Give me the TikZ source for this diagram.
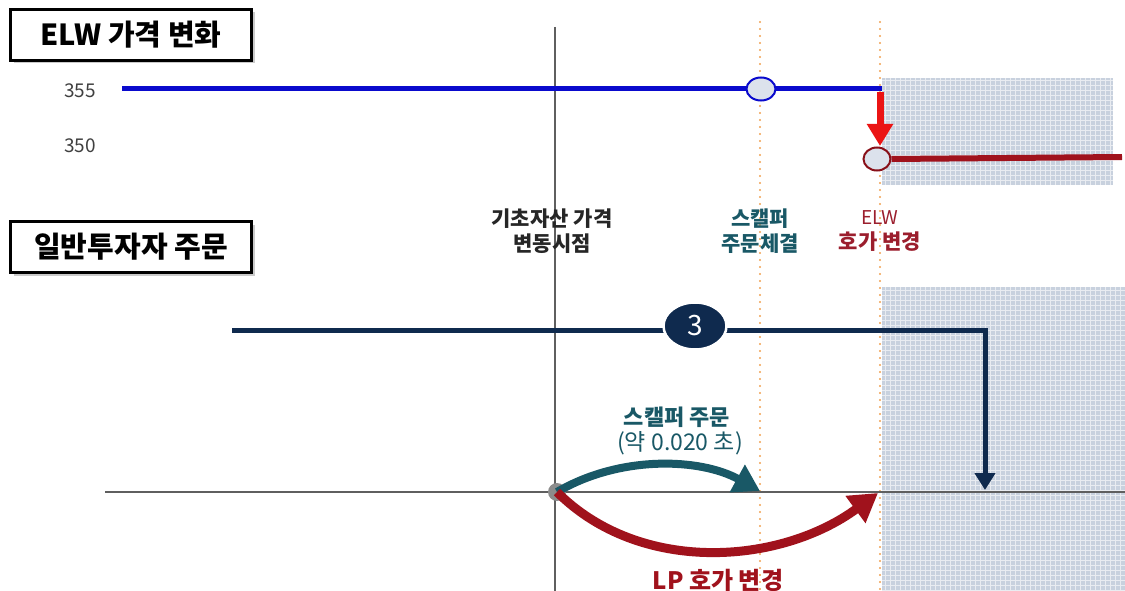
\documentclass[tikz,border=0pt]{standalone}
\usepackage{fontspec}
\setmainfont{Noto Sans CJK KR}
\usetikzlibrary{arrows.meta,shadows,shapes.geometric}
\definecolor{elwblue}{RGB}{10,10,205}
\definecolor{axisgray}{RGB}{95,95,95}
\definecolor{dotorange}{RGB}{240,160,80}
\definecolor{hatchbg}{RGB}{200,209,222}
\definecolor{scalpteal}{RGB}{25,88,102}
\definecolor{lpred}{RGB}{160,18,28}
\definecolor{elwred}{RGB}{155,30,45}
\definecolor{navy}{RGB}{15,42,78}
\definecolor{circfill}{RGB}{220,226,236}
\definecolor{arrowred}{RGB}{235,20,20}
\begin{document}
\begin{tikzpicture}[x=1pt,y=-1pt,
  titlebox/.style={draw=black, line width=2.5pt, fill=white, inner sep=0pt,
    minimum width=241pt, minimum height=51pt,
    drop shadow={shadow xshift=3pt, shadow yshift=-3pt, fill=black!35, opacity=0.6},
    font=\fontsize{29}{32}\selectfont\bfseries},
  pricelbl/.style={text=black!75, font=\fontsize{19}{21}\selectfont},
  eventlbl/.style={align=center, font=\fontsize{21}{25}\selectfont\bfseries},
  dotline/.style={dotorange, line width=2.2pt, line cap=round, dash pattern=on 0pt off 7pt},
  pricecirc/.style={ellipse, line width=2pt, fill=circfill, minimum width=29pt, minimum height=23pt, inner sep=0pt},
]
\useasboundingbox (0,0) rectangle (1125,591);

% hatched (gray-blue) regions
\fill[hatchbg] (882,78) rectangle (1113,185);
\fill[hatchbg] (882,287) rectangle (1125,591);
\draw[white, line width=0.6pt, opacity=0.6] (882,78) grid[step=5pt] (1113,185);
\draw[white, line width=0.6pt, opacity=0.6] (882,287) grid[step=5pt] (1125,591);

% vertical guide lines
\coordinate (vtop) at (555,27);
\coordinate (vbot) at (555,591);
\draw[axisgray, line width=2.5pt] (vtop) -- (vbot);
\coordinate (s1top) at (760,22);
\coordinate (s1bot) at (760,591);
\draw[dotline] (s1top) -- (s1bot);
\coordinate (s2top) at (880,22);
\coordinate (s2bot) at (880,591);
\draw[dotline] (s2top) -- (s2bot);

% titles
\node[titlebox] (t1) at (131,35) {ELW 가격 변화};
\node[titlebox] (t2) at (131,247) {일반투자자 주문};

% price labels
\node[pricelbl] (p355) at (80,91) {355};
\node[pricelbl] (p350) at (80,146) {350};

% ELW price lines
\coordinate (b0) at (122,89);
\coordinate (b1) at (882,89);
\draw[elwblue, line width=5pt] (b0) -- (b1);
\node[pricecirc, draw=elwblue] (c1) at (761,89) {};
\coordinate (r0) at (880,92);
\coordinate (r1) at (880,146);
\draw[arrowred, line width=7pt, -{Triangle[length=22pt,width=25pt]}] (r0) -- (r1);
\coordinate (d1) at (1122,157);
\node[pricecirc, draw=lpred!85!black, minimum width=27pt, minimum height=23pt] (c2) at (877,159) {};
\draw[lpred, line width=6pt] (c2.east) -- (d1);

% event labels
\node[eventlbl, text=black!85] (e1) at (552,231) {기초자산 가격\\변동시점};
\node[eventlbl, text=scalpteal] (e2) at (760,231) {스캘퍼\\주문체결};
\node[eventlbl, text=elwred] (e3) at (880,231) {{\mdseries\fontsize{19}{21}\selectfont ELW}\\호가 변경};

% investor order line
\coordinate (n0) at (232,330);
\coordinate (n1) at (985,330);
\coordinate (n2) at (985,490);
\draw[navy, line width=5pt, -{Triangle[length=17pt,width=20pt]}] (n0) -- (n1) -- (n2);
\node[ellipse, fill=navy, draw=white, line width=2.5pt, minimum width=63pt, minimum height=47pt,
      text=white, font=\fontsize{28}{30}\selectfont] (three) at (695,326) {3};

% time axis
\coordinate (a0) at (105,492);
\coordinate (a1) at (1125,492);
\draw[axisgray, line width=2.5pt] (a0) -- (a1);

% origin dot
\node[circle, fill=black!45, minimum size=18pt, inner sep=0pt] (o) at (557,492) {};

% scalper arrow
\coordinate (sc) at (760,491);
\draw[scalpteal, line width=8pt, -{Triangle[length=26pt,width=30pt]}]
  (o.center) .. controls (620,455) and (700,458) .. (sc);
\node[text=scalpteal, font=\fontsize{22}{24}\selectfont\bfseries] (sl1) at (677,417) {스캘퍼 주문};
\node[text=scalpteal, font=\fontsize{23}{25}\selectfont] (sl2) at (680,443) {(약 0.020 초)};

% LP arrow
\coordinate (lp) at (878,493);
\draw[lpred, line width=9pt, -{Triangle[length=28pt,width=32pt]}]
  (o.center) .. controls (640,575) and (780,565) .. (lp);
\node[text=lpred, font=\fontsize{24}{26}\selectfont\bfseries] (ll) at (718,580) {LP 호가 변경};
\end{tikzpicture}
\end{document}
